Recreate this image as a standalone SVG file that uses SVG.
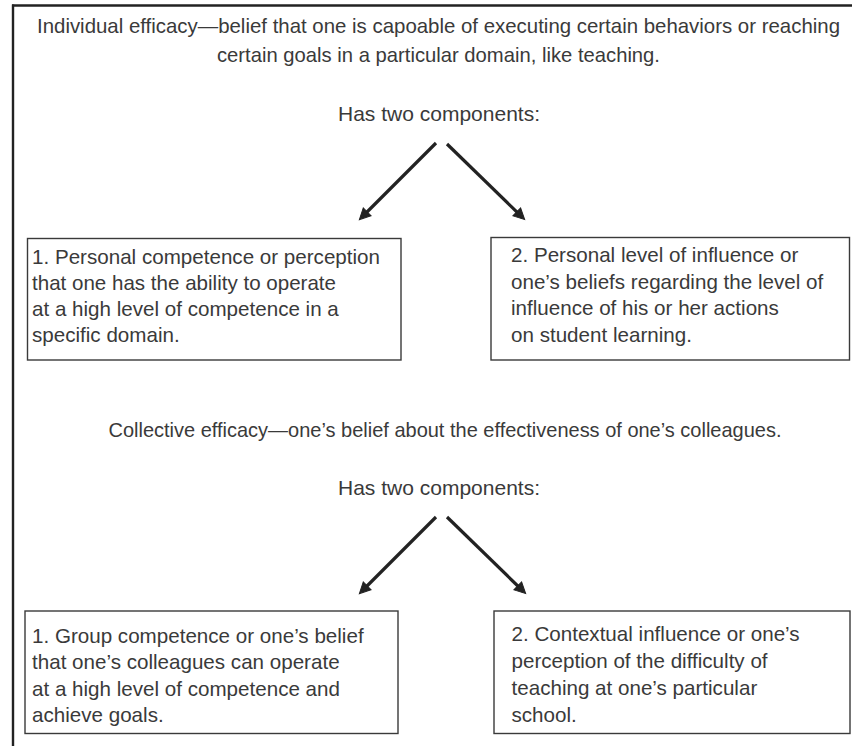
<svg xmlns="http://www.w3.org/2000/svg" width="855" height="746" viewBox="0 0 855 746">
<defs>
<style>
.t{font-family:"Liberation Sans",Arial,sans-serif;font-size:20.6px;fill:#3a3a3a}
.c{text-anchor:middle}
.box{fill:#fff;stroke:#3a3a3a;stroke-width:1.4}
.frame{stroke:#222;stroke-width:2.4;fill:none}
.arr{stroke:#222;stroke-width:3.2;fill:none;marker-end:url(#ah)}
</style>
<marker id="ah" markerUnits="userSpaceOnUse" markerWidth="12" markerHeight="12" refX="8" refY="6" orient="auto" overflow="visible">
<path d="M0,0.5 L11,6 L0,11.5 Z" fill="#222" stroke="#222" stroke-width="1" stroke-linejoin="miter"/>
</marker>
</defs>
<rect width="855" height="746" fill="#fff"/>
<g id="frame">
<line class="frame" x1="12" y1="5.5" x2="852" y2="5.5"/>
<line class="frame" x1="13" y1="4.5" x2="13" y2="746"/>
</g>
<g id="individual">
<text class="t c" x="438.5" y="33" textLength="803" lengthAdjust="spacingAndGlyphs">Individual efficacy—belief that one is capoable of executing certain behaviors or reaching</text>
<text class="t c" x="438.5" y="61.5" textLength="443" lengthAdjust="spacingAndGlyphs">certain goals in a particular domain, like teaching.</text>
<text class="t c" x="439" y="121" textLength="202" lengthAdjust="spacingAndGlyphs">Has two components:</text>
</g>
<g id="personal-competence">
<rect class="box" x="27.5" y="238.5" width="373.5" height="121.5"/>
<text class="t" x="32" y="264">1. Personal competence or perception</text>
<text class="t" x="32" y="290" textLength="304" lengthAdjust="spacingAndGlyphs">that one has the ability to operate</text>
<text class="t" x="32" y="316">at a high level of competence in a</text>
<text class="t" x="32" y="342">specific domain.</text>
</g>
<g id="personal-influence">
<rect class="box" x="491" y="237.5" width="358.5" height="122.5"/>
<text class="t" x="511" y="262">2. Personal level of influence or</text>
<text class="t" x="511" y="289">one’s beliefs regarding the level of</text>
<text class="t" x="511" y="315">influence of his or her actions</text>
<text class="t" x="511" y="341.5">on student learning.</text>
</g>
<g id="collective">
<text class="t c" x="445" y="437" textLength="673" lengthAdjust="spacingAndGlyphs">Collective efficacy—one’s belief about the effectiveness of one’s colleagues.</text>
<text class="t c" x="439" y="495" textLength="202" lengthAdjust="spacingAndGlyphs">Has two components:</text>
</g>
<g id="group-competence">
<rect class="box" x="25" y="611" width="373" height="122.5"/>
<text class="t" x="32" y="643">1. Group competence or one’s belief</text>
<text class="t" x="32" y="669">that one’s colleagues can operate</text>
<text class="t" x="32" y="696">at a high level of competence and</text>
<text class="t" x="32" y="722">achieve goals.</text>
</g>
<g id="contextual-influence">
<rect class="box" x="494" y="611" width="356" height="122.5"/>
<text class="t" x="511.5" y="641">2. Contextual influence or one’s</text>
<text class="t" x="511.5" y="668">perception of the difficulty of</text>
<text class="t" x="511.5" y="695">teaching at one’s particular</text>
<text class="t" x="511.5" y="721.5">school.</text>
</g>
<g id="connectors">
<line class="arr" x1="436" y1="143" x2="361.5" y2="217.5"/>
<line class="arr" x1="447" y1="144" x2="522.5" y2="217.5"/>
<line class="arr" x1="436" y1="517" x2="361.5" y2="591.5"/>
<line class="arr" x1="447" y1="517" x2="523.5" y2="591.5"/>
</g>
</svg>
